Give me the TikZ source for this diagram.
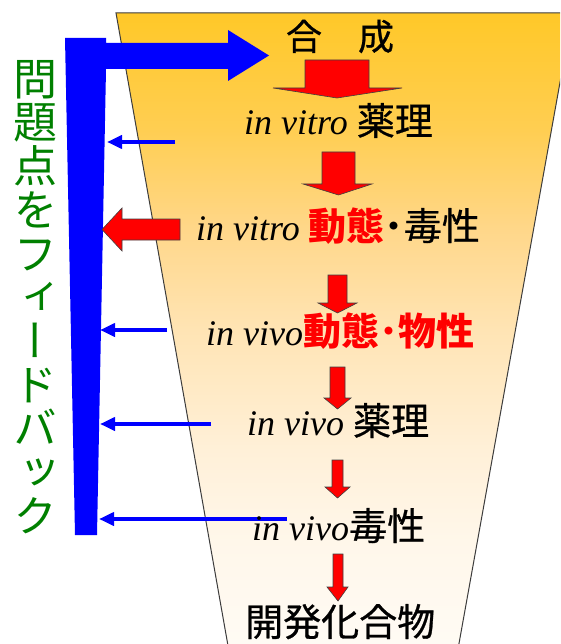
\documentclass[tikz,border=0pt]{standalone}
\usepackage{fontspec}
\setmainfont{Liberation Serif}
\newfontfamily\jp[FakeBold=0.7]{Noto Sans CJK JP}
\newfontfamily\jpb{Noto Sans CJK JP}
\newfontfamily\vjp[RawFeature=+vert]{Noto Sans CJK JP}
\usetikzlibrary{arrows.meta}
\definecolor{fbBlue}{RGB}{0,0,255}
\definecolor{fbRed}{RGB}{255,0,0}
\definecolor{fbGreen}{RGB}{0,128,0}
\definecolor{edgeGray}{RGB}{60,60,60}
\definecolor{shA}{RGB}{255,251,244}
\definecolor{shB}{RGB}{255,247,234}
\definecolor{shC}{RGB}{255,240,216}
\definecolor{shD}{RGB}{255,228,180}
\definecolor{shE}{RGB}{255,215,138}
\definecolor{shF}{RGB}{255,206,82}
\definecolor{shG}{RGB}{255,200,40}
\pgfdeclareverticalshading{funnelshade}{100bp}{color(0bp)=(shA); color(25bp)=(shA); color(33.2bp)=(shB); color(40.4bp)=(shC); color(49.9bp)=(shD); color(57.8bp)=(shE); color(65.7bp)=(shF); color(75bp)=(shG); color(100bp)=(shG)}
\newcommand\redDown[7]{%
  \filldraw[redblock] (#1,#3) -- (#2,#3) -- (#2,#4) -- (#6,#4) -- ({(#1+#2)/2},#7) -- (#5,#4) -- (#1,#4) -- cycle;}
\newcommand\cjk[1]{{\jp\fontsize{38}{40}\selectfont #1}}
\newcommand\cjkred[1]{{\jpb\bfseries\fontsize{38}{40}\selectfont\color{fbRed}#1}}
\tikzset{
  redblock/.style={fill=fbRed, draw=black!75, line width=0.6pt, line join=miter},
  txt/.style={anchor=base west, inner sep=0pt, font=\fontsize{36}{40}\selectfont},
  vtxt/.style={anchor=base, inner sep=0pt, text=fbGreen, font=\vjp\fontsize{44}{44}\selectfont},
  fbarrow/.style={draw=fbBlue, line width=4pt, -{Triangle[length=15pt,width=13pt]}},
}
\begin{document}
\begin{tikzpicture}[x=1pt,y=-1pt]
\useasboundingbox (0,0) rectangle (560,644);
\fill[white] (0,0) rectangle (560,644);
% funnel
\begin{scope}
\clip (0,0) rectangle (560,644);
\shade[shading=funnelshade] (116,13) -- (572.5,13) -- (458.9,644) -- (227.7,644) -- cycle;
\draw[edgeGray, line width=1pt] (227.7,644) -- (116,13) -- (572.5,13) -- (458.9,644);
\end{scope}
% blue feedback bar
\fill[fbBlue] (65,38) -- (106,38) -- (106,43) -- (228,43) -- (228,30) -- (269,55.5) -- (228,81) -- (228,69) -- (106,69) -- (97,535) -- (75,535) -- cycle;
% thin blue arrows
\coordinate (b1s) at (175,142); \coordinate (b1e) at (107,142);
\coordinate (b2s) at (167,330); \coordinate (b2e) at (100,330);
\coordinate (b3s) at (211,424); \coordinate (b3e) at (100,424);
\coordinate (b4s) at (287,519); \coordinate (b4e) at (99,519);
\draw[fbarrow] (b1s) -- (b1e);
\draw[fbarrow] (b2s) -- (b2e);
\draw[fbarrow] (b3s) -- (b3e);
\draw[fbarrow] (b4s) -- (b4e);
% red left arrow
\filldraw[redblock] (180,219) -- (122,219) -- (122,208) -- (102,229.5) -- (122,251) -- (122,240) -- (180,240) -- cycle;
% red down arrows
\redDown{305}{369}{60}{88}{273}{402}{98}
\redDown{322}{355}{152}{184}{303}{372}{195}
\redDown{328}{347}{275}{303}{318}{357}{313}
\redDown{330}{345}{367}{398}{324}{351}{409}
\redDown{332}{343}{460}{487}{325}{350}{498}
\redDown{333}{343}{554}{587}{327}{348}{601}
% texts
\node[anchor=base, inner sep=0pt, font=\jp\fontsize{36}{38}\selectfont] (l0) at (340,50) {合　成};
\node[txt] (l1) at (244,135) {\textit{in vitro} \cjk{薬理}};
\node[txt] (l2) at (196,240) {\textit{in vitro} \cjkred{動態}{\jpb\bfseries\fontsize{38}{40}\selectfont ･}\cjk{毒性}};
\node[txt] (l3) at (206,345) {\textit{in vivo}\cjkred{動態･物性}};
\node[txt] (l4) at (247,435) {\textit{in vivo} \cjk{薬理}};
\node[txt] (l5) at (252,540) {\textit{in vivo}\cjk{毒性}};
\node[anchor=base west, inner sep=0pt] (l6) at (245,636) {\cjk{開発化合物}};
% vertical green text
\foreach \ch [count=\i from 0] in {問,題,点,を,フ,ィ,ー,ド,バ,ッ,ク}
  \node[vtxt] (v\i) at (35,{95.3+43.7*\i}) {\ch};
\end{tikzpicture}
\end{document}
